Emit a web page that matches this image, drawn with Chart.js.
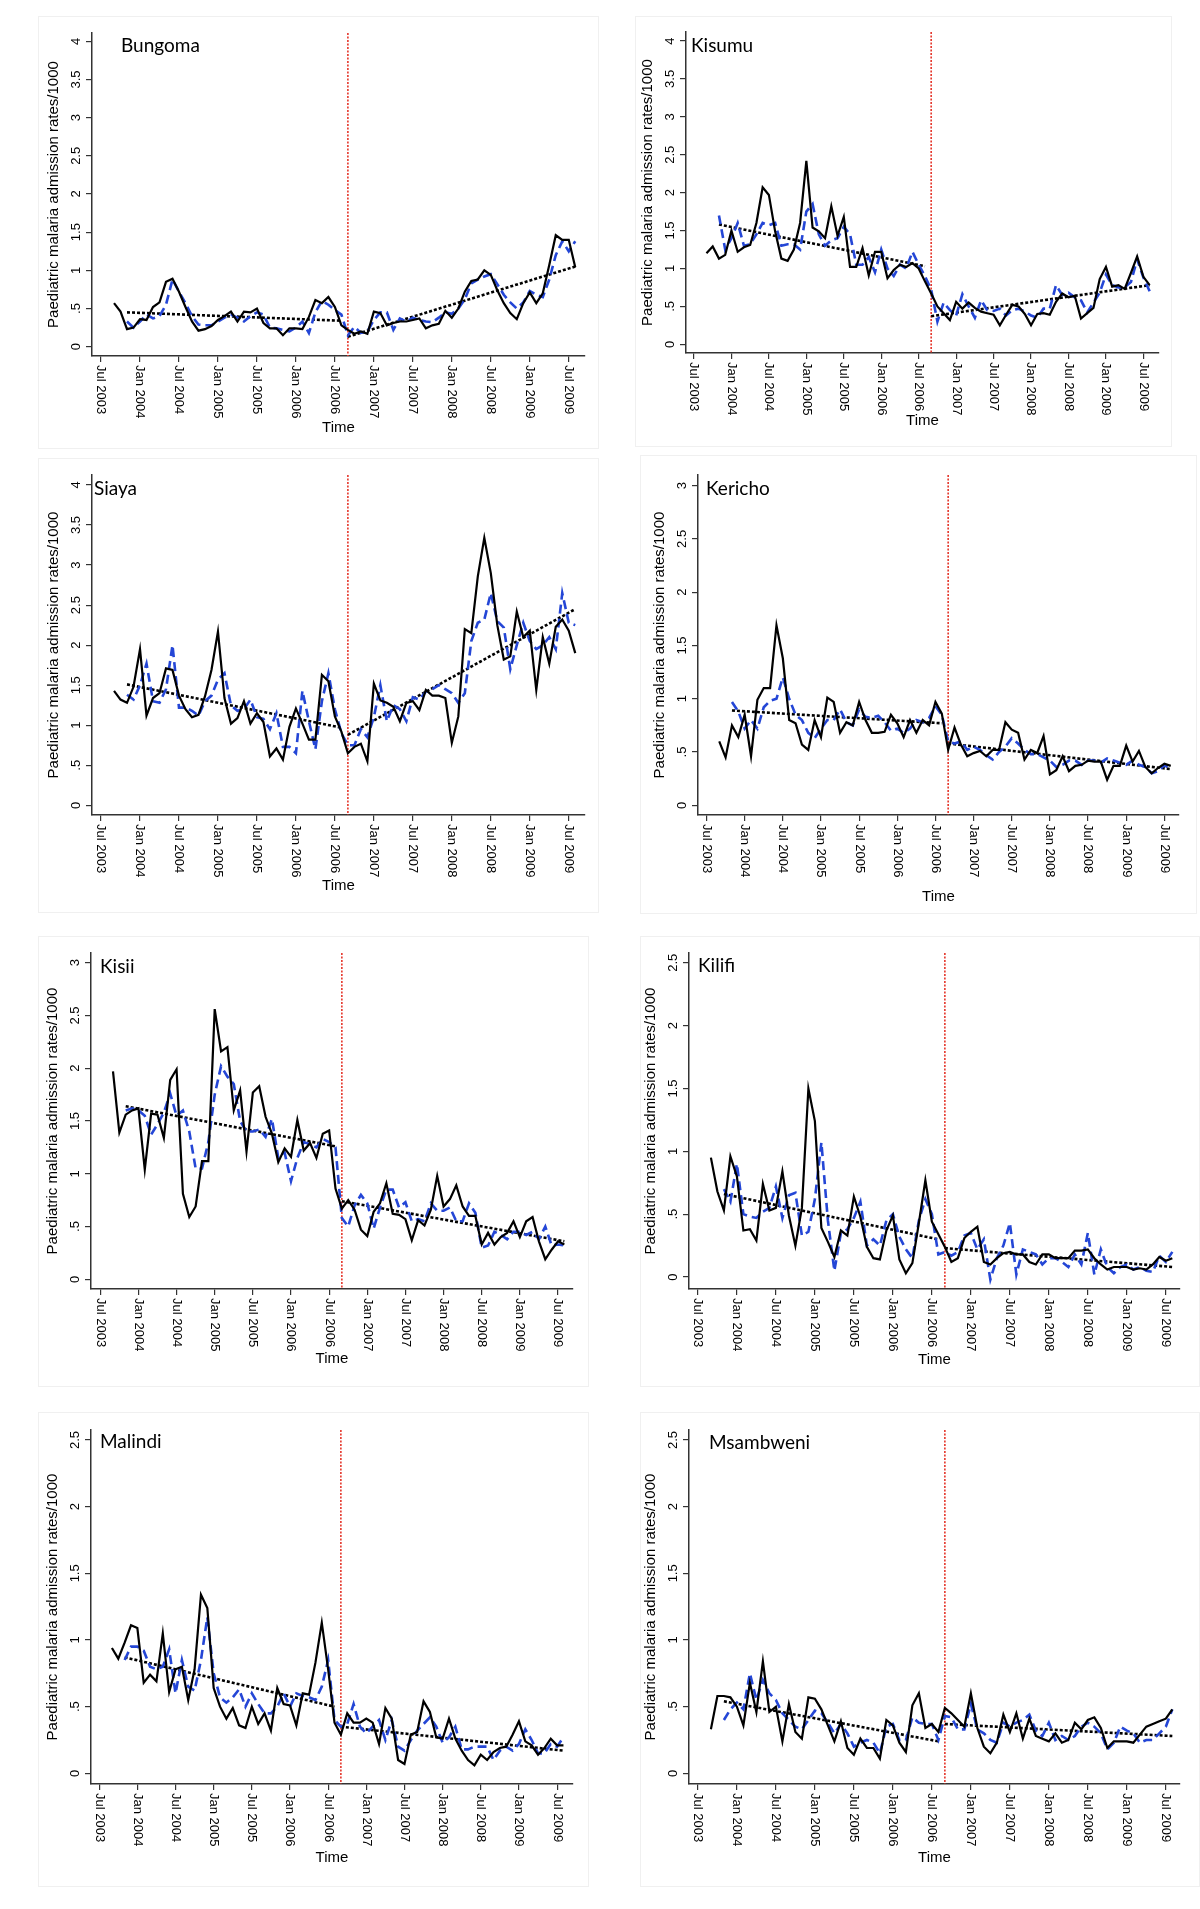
<!DOCTYPE html>
<html>
<head>
<meta charset="utf-8">
<script src="https://cdn.jsdelivr.net/npm/chart.js@4.4.1/dist/chart.umd.min.js"></script>
<style>
    body { margin: 0; background: #fff; width: 1200px; height: 1909px; position: relative; overflow: hidden; }
    canvas { position: absolute; display: block; }
</style>
</head>
<body>
<script>
// months counted from Jul 2003 (= 0)
var xTickMonths = [0, 6, 12, 18, 24, 30, 36, 42, 48, 54, 60, 66, 72];
var xTickLabels = ['Jul 2003', 'Jan 2004', 'Jul 2004', 'Jan 2005', 'Jul 2005', 'Jan 2006', 'Jul 2006',
    'Jan 2007', 'Jul 2007', 'Jan 2008', 'Jul 2008', 'Jan 2009', 'Jul 2009'];
var yTickValues = [0, 0.5, 1, 1.5, 2, 2.5, 3, 3.5, 4];
var yTickLabels = ['0', '.5', '1', '1.5', '2', '2.5', '3', '3.5', '4'];

var obsStartMonth = 2;      // Sep 2003
var fitStartMonth = 4;      // Nov 2003
var interventionMonth = 38; // Sep 2006
var trendPreMonths = [4, 37];
var trendPostMonths = [38, 73];

// observed admission rates (black solid)
var bungomaObs = [0.57, 0.46, 0.23, 0.25, 0.36, 0.35, 0.52, 0.58, 0.85, 0.89,
    0.72, 0.52, 0.33, 0.21, 0.23, 0.27, 0.35, 0.40, 0.46, 0.33,
    0.46, 0.45, 0.50, 0.31, 0.24, 0.24, 0.15, 0.24, 0.24, 0.23,
    0.39, 0.61, 0.57, 0.65, 0.52, 0.28, 0.22, 0.17, 0.20, 0.17,
    0.46, 0.44, 0.28, 0.31, 0.33, 0.33, 0.35, 0.37, 0.24, 0.28,
    0.30, 0.47, 0.38, 0.50, 0.72, 0.86, 0.88, 1.00, 0.94, 0.74,
    0.57, 0.44, 0.36, 0.57, 0.71, 0.57, 0.70, 1.07, 1.46, 1.40,
    1.40, 1.04];
var kisumuObs = [1.20, 1.29, 1.13, 1.18, 1.50, 1.22, 1.28, 1.31, 1.60, 2.07,
    1.97, 1.49, 1.13, 1.10, 1.25, 1.60, 2.42, 1.54, 1.49, 1.40,
    1.82, 1.43, 1.68, 1.02, 1.02, 1.27, 0.91, 1.22, 1.22, 0.87,
    0.98, 1.05, 1.02, 1.07, 1.00, 0.83, 0.67, 0.50, 0.41, 0.32,
    0.56, 0.47, 0.55, 0.48, 0.43, 0.41, 0.39, 0.25, 0.39, 0.52,
    0.50, 0.40, 0.25, 0.40, 0.41, 0.39, 0.56, 0.67, 0.62, 0.64,
    0.34, 0.41, 0.48, 0.86, 1.02, 0.76, 0.78, 0.73, 0.94, 1.16,
    0.89, 0.78];
var siayaObs = [1.43, 1.32, 1.28, 1.48, 1.95, 1.12, 1.34, 1.40, 1.71, 1.69,
    1.37, 1.20, 1.10, 1.13, 1.36, 1.69, 2.17, 1.34, 1.02, 1.09,
    1.30, 1.02, 1.15, 1.04, 0.61, 0.71, 0.57, 0.98, 1.21, 1.02,
    0.82, 0.82, 1.63, 1.55, 1.11, 0.92, 0.65, 0.73, 0.77, 0.55,
    1.52, 1.31, 1.28, 1.23, 1.05, 1.28, 1.30, 1.19, 1.44, 1.37,
    1.37, 1.34, 0.78, 1.11, 2.20, 2.15, 2.86, 3.34, 2.90, 2.25,
    1.82, 1.86, 2.42, 2.10, 2.18, 1.44, 2.10, 1.77, 2.23, 2.32,
    2.18, 1.90];
var kerichoObs = [0.60, 0.45, 0.75, 0.64, 0.85, 0.46, 0.99, 1.10, 1.10, 1.69,
    1.38, 0.80, 0.77, 0.57, 0.52, 0.80, 0.64, 1.01, 0.97, 0.68,
    0.78, 0.75, 0.97, 0.80, 0.68, 0.68, 0.69, 0.85, 0.77, 0.64,
    0.80, 0.68, 0.80, 0.75, 0.97, 0.86, 0.52, 0.73, 0.57, 0.46,
    0.49, 0.51, 0.46, 0.52, 0.52, 0.78, 0.71, 0.68, 0.43, 0.52,
    0.49, 0.65, 0.29, 0.33, 0.46, 0.32, 0.37, 0.38, 0.42, 0.41,
    0.41, 0.24, 0.37, 0.37, 0.56, 0.41, 0.51, 0.36, 0.30, 0.35,
    0.39, 0.37];
var kisiiObs = [1.97, 1.39, 1.56, 1.60, 1.62, 1.04, 1.57, 1.56, 1.34, 1.89,
    1.99, 0.81, 0.59, 0.69, 1.12, 1.12, 2.56, 2.16, 2.20, 1.60,
    1.79, 1.21, 1.77, 1.83, 1.54, 1.38, 1.11, 1.24, 1.16, 1.51,
    1.22, 1.29, 1.15, 1.38, 1.41, 0.86, 0.67, 0.75, 0.66, 0.47,
    0.41, 0.64, 0.72, 0.91, 0.62, 0.61, 0.57, 0.37, 0.56, 0.51,
    0.66, 0.98, 0.69, 0.76, 0.89, 0.69, 0.60, 0.60, 0.33, 0.44,
    0.33, 0.40, 0.44, 0.55, 0.40, 0.55, 0.59, 0.36, 0.19, 0.28,
    0.36, 0.33];
var kilifiObs = [0.95, 0.68, 0.53, 0.96, 0.80, 0.37, 0.38, 0.29, 0.74, 0.53,
    0.55, 0.84, 0.49, 0.25, 0.55, 1.50, 1.24, 0.39, 0.28, 0.16,
    0.37, 0.33, 0.64, 0.48, 0.24, 0.15, 0.14, 0.37, 0.49, 0.14,
    0.03, 0.11, 0.43, 0.77, 0.44, 0.34, 0.24, 0.12, 0.15, 0.31,
    0.36, 0.40, 0.12, 0.10, 0.15, 0.19, 0.20, 0.18, 0.18, 0.12,
    0.10, 0.18, 0.18, 0.15, 0.15, 0.15, 0.21, 0.21, 0.22, 0.15,
    0.10, 0.06, 0.08, 0.08, 0.08, 0.06, 0.07, 0.06, 0.10, 0.16,
    0.13, 0.15];
var malindiObs = [0.94, 0.86, 0.98, 1.11, 1.09, 0.68, 0.74, 0.69, 1.05, 0.61,
    0.78, 0.80, 0.55, 0.78, 1.34, 1.24, 0.64, 0.50, 0.41, 0.49,
    0.36, 0.34, 0.50, 0.37, 0.45, 0.32, 0.64, 0.52, 0.51, 0.36,
    0.60, 0.59, 0.83, 1.13, 0.78, 0.38, 0.29, 0.45, 0.38, 0.38,
    0.41, 0.38, 0.22, 0.49, 0.41, 0.10, 0.07, 0.29, 0.31, 0.54,
    0.46, 0.27, 0.26, 0.41, 0.26, 0.17, 0.10, 0.06, 0.14, 0.10,
    0.16, 0.19, 0.20, 0.29, 0.39, 0.24, 0.21, 0.14, 0.19, 0.26,
    0.21, 0.21];
var msambweniObs = [0.33, 0.58, 0.58, 0.57, 0.50, 0.36, 0.68, 0.46, 0.84, 0.46,
    0.50, 0.24, 0.52, 0.31, 0.26, 0.57, 0.56, 0.48, 0.36, 0.24,
    0.39, 0.19, 0.14, 0.26, 0.19, 0.19, 0.11, 0.40, 0.36, 0.23,
    0.16, 0.51, 0.60, 0.34, 0.37, 0.31, 0.49, 0.45, 0.40, 0.35,
    0.60, 0.34, 0.20, 0.15, 0.23, 0.44, 0.31, 0.45, 0.26, 0.41,
    0.28, 0.26, 0.24, 0.30, 0.23, 0.25, 0.38, 0.33, 0.40, 0.42,
    0.34, 0.19, 0.24, 0.24, 0.24, 0.23, 0.29, 0.35, 0.37, 0.39,
    0.41, 0.48];

// fitted values (blue dashed)
var bungomaFit = [0.33, 0.25, 0.33, 0.42, 0.37, 0.40, 0.55, 0.88, 0.72, 0.57,
    0.40, 0.29, 0.28, 0.28, 0.33, 0.38, 0.42, 0.38, 0.33, 0.40,
    0.45, 0.42, 0.25, 0.24, 0.22, 0.20, 0.25, 0.33, 0.18, 0.45,
    0.60, 0.55, 0.48, 0.42, 0.15, 0.26, 0.18, 0.20, 0.35, 0.45,
    0.45, 0.22, 0.37, 0.33, 0.38, 0.35, 0.33, 0.32, 0.38, 0.45,
    0.43, 0.50, 0.62, 0.83, 0.88, 0.92, 0.95, 0.82, 0.68, 0.58,
    0.50, 0.58, 0.73, 0.68, 0.65, 0.88, 1.20, 1.38, 1.25, 1.38];
var kisumuFit = [1.70, 1.25, 1.40, 1.60, 1.30, 1.32, 1.45, 1.60, 1.57, 1.60,
    1.30, 1.32, 1.32, 1.25, 1.75, 1.85, 1.45, 1.30, 1.37, 1.40,
    1.55, 1.45, 1.05, 1.05, 1.15, 0.95, 1.25, 1.00, 0.90, 1.05,
    1.00, 1.22, 1.05, 0.90, 0.72, 0.30, 0.55, 0.45, 0.38, 0.66,
    0.50, 0.35, 0.58, 0.45, 0.44, 0.47, 0.38, 0.45, 0.47, 0.43,
    0.38, 0.35, 0.47, 0.47, 0.78, 0.65, 0.68, 0.62, 0.58, 0.42,
    0.55, 0.68, 0.92, 0.78, 0.75, 0.75, 0.82, 1.12, 0.88, 0.70];
var siayaFit = [1.38, 1.32, 1.50, 1.77, 1.30, 1.28, 1.45, 2.00, 1.22, 1.22,
    1.18, 1.12, 1.30, 1.37, 1.57, 1.65, 1.25, 1.18, 1.20, 1.32,
    1.10, 1.08, 0.95, 1.15, 0.73, 0.73, 0.65, 1.43, 1.05, 0.70,
    1.30, 1.65, 1.20, 0.90, 0.75, 0.75, 0.95, 0.85, 1.10, 1.50,
    1.05, 1.25, 1.20, 1.05, 1.35, 1.32, 1.42, 1.45, 1.50, 1.45,
    1.40, 1.28, 1.40, 2.05, 2.28, 2.32, 2.65, 2.30, 2.22, 1.70,
    2.00, 2.28, 2.05, 1.95, 2.00, 2.10, 1.95, 2.65, 2.28, 2.25];
var kerichoFit = [0.97, 0.88, 0.72, 0.80, 0.72, 0.92, 0.98, 1.00, 1.20, 1.00,
    0.85, 0.80, 0.68, 0.63, 0.72, 0.80, 0.80, 0.90, 0.78, 0.75,
    0.90, 0.83, 0.82, 0.84, 0.78, 0.70, 0.72, 0.68, 0.72, 0.80,
    0.78, 0.82, 0.93, 0.85, 0.60, 0.58, 0.60, 0.52, 0.55, 0.52,
    0.47, 0.43, 0.50, 0.55, 0.63, 0.58, 0.52, 0.48, 0.48, 0.45,
    0.42, 0.36, 0.38, 0.42, 0.42, 0.38, 0.42, 0.42, 0.40, 0.44,
    0.42, 0.40, 0.38, 0.42, 0.38, 0.36, 0.30, 0.32, 0.38, 0.33];
var kisiiFit = [1.60, 1.62, 1.60, 1.55, 1.37, 1.47, 1.58, 1.76, 1.55, 1.60,
    1.40, 1.05, 1.05, 1.30, 1.75, 2.02, 1.92, 1.85, 1.50, 1.40,
    1.40, 1.42, 1.35, 1.52, 1.15, 1.20, 0.93, 1.15, 1.30, 1.28,
    1.25, 1.33, 1.30, 1.25, 0.58, 0.50, 0.70, 0.80, 0.72, 0.48,
    0.68, 0.85, 0.85, 0.68, 0.73, 0.55, 0.57, 0.55, 0.72, 0.65,
    0.65, 0.68, 0.55, 0.55, 0.72, 0.63, 0.30, 0.32, 0.45, 0.42,
    0.38, 0.45, 0.45, 0.42, 0.45, 0.38, 0.50, 0.32, 0.33, 0.32];
var kilifiFit = [0.70, 0.60, 0.90, 0.50, 0.48, 0.47, 0.52, 0.55, 0.72, 0.47,
    0.65, 0.67, 0.33, 0.36, 0.62, 1.07, 0.45, 0.05, 0.35, 0.38,
    0.47, 0.60, 0.25, 0.30, 0.25, 0.45, 0.50, 0.32, 0.22, 0.15,
    0.45, 0.62, 0.50, 0.18, 0.20, 0.17, 0.20, 0.33, 0.35, 0.22,
    0.30, -0.02, 0.15, 0.25, 0.43, 0.02, 0.22, 0.20, 0.18, 0.10,
    0.15, 0.15, 0.12, 0.08, 0.18, 0.10, 0.35, 0.02, 0.22, 0.08,
    0.03, 0.08, 0.10, 0.06, 0.08, 0.05, 0.04, 0.17, 0.12, 0.20];
var malindiFit = [0.85, 0.95, 0.95, 0.92, 0.80, 0.78, 0.80, 0.93, 0.60, 0.85,
    0.65, 0.62, 0.85, 1.17, 0.75, 0.57, 0.53, 0.57, 0.63, 0.50,
    0.60, 0.52, 0.45, 0.45, 0.50, 0.60, 0.50, 0.60, 0.58, 0.57,
    0.55, 0.65, 0.85, 0.40, 0.35, 0.37, 0.52, 0.35, 0.30, 0.35,
    0.40, 0.25, 0.40, 0.20, 0.17, 0.25, 0.32, 0.37, 0.42, 0.35,
    0.23, 0.27, 0.35, 0.18, 0.18, 0.20, 0.20, 0.20, 0.10, 0.17,
    0.20, 0.17, 0.22, 0.33, 0.25, 0.15, 0.15, 0.22, 0.20, 0.27];
var msambweniFit = [0.40, 0.48, 0.53, 0.48, 0.75, 0.55, 0.70, 0.60, 0.55, 0.45,
    0.40, 0.35, 0.33, 0.40, 0.47, 0.45, 0.38, 0.30, 0.37, 0.30,
    0.20, 0.23, 0.25, 0.23, 0.15, 0.35, 0.37, 0.25, 0.25, 0.42,
    0.38, 0.37, 0.37, 0.25, 0.43, 0.42, 0.33, 0.33, 0.52, 0.33,
    0.30, 0.25, 0.23, 0.38, 0.35, 0.38, 0.40, 0.44, 0.32, 0.28,
    0.38, 0.25, 0.28, 0.25, 0.28, 0.35, 0.38, 0.35, 0.30, 0.18,
    0.23, 0.35, 0.32, 0.30, 0.23, 0.25, 0.25, 0.30, 0.35, 0.48];

// segmented trend lines (black dotted), start and end values
var bungomaTrendPre = [0.45, 0.34], bungomaTrendPost = [0.13, 1.05];
var kisumuTrendPre = [1.58, 1.03], kisumuTrendPost = [0.37, 0.78];
var siayaTrendPre = [1.51, 0.97], siayaTrendPost = [0.88, 2.45];
var kerichoTrendPre = [0.89, 0.77], kerichoTrendPost = [0.58, 0.34];
var kisiiTrendPre = [1.64, 1.26], kisiiTrendPost = [0.74, 0.36];
var kilifiTrendPre = [0.66, 0.30], kilifiTrendPost = [0.23, 0.08];
var malindiTrendPre = [0.87, 0.50], malindiTrendPost = [0.35, 0.17];
var msambweniTrendPre = [0.54, 0.24], msambweniTrendPost = [0.37, 0.28];


// panel layout, page pixels: box = [x1, y1, x2, y2], area = [left, top, right, bottom]
var panels = [
    { name: 'Bungoma', obs: bungomaObs, fit: bungomaFit, pre: bungomaTrendPre, post: bungomaTrendPost,
      yTop: 4, xMin: -1.39, xMax: 74.5, yMin: -0.122, yMax: 4.109,
      box: [38, 16, 599, 449], area: [92, 33, 585, 356], nameAt: [29, 19], timeDy: 72 },
    { name: 'Kisumu', obs: kisumuObs, fit: kisumuFit, pre: kisumuTrendPre, post: kisumuTrendPost,
      yTop: 4, xMin: -1.28, xMax: 74.5, yMin: -0.115, yMax: 4.119,
      box: [635, 16, 1172, 447], area: [686, 32, 1159, 353], nameAt: [5, 20], timeDy: 68 },
    { name: 'Siaya', obs: siayaObs, fit: siayaFit, pre: siayaTrendPre, post: siayaTrendPost,
      yTop: 4, xMin: -1.39, xMax: 74.5, yMin: -0.121, yMax: 4.125,
      box: [38, 458, 599, 913], area: [92, 475, 585, 815], nameAt: [2, 20], timeDy: 71 },
    { name: 'Kericho', obs: kerichoObs, fit: kerichoFit, pre: kerichoTrendPre, post: kerichoTrendPost,
      yTop: 3, xMin: -1.34, xMax: 74.3, yMin: -0.091, yMax: 3.1,
      box: [640, 455, 1197, 914], area: [698, 475, 1179, 815], nameAt: [8, 20], timeDy: 82 },
    { name: 'Kisii', obs: kisiiObs, fit: kisiiFit, pre: kisiiTrendPre, post: kisiiTrendPost,
      yTop: 3, xMin: -1.46, xMax: 74.36, yMin: -0.092, yMax: 3.092,
      box: [38, 936, 589, 1387], area: [91, 953, 573, 1289], nameAt: [9, 20], timeDy: 70 },
    { name: 'Kilifi', obs: kilifiObs, fit: kilifiFit, pre: kilifiTrendPre, post: kilifiTrendPost,
      yTop: 2.5, xMin: -1.37, xMax: 74.18, yMin: -0.095, yMax: 2.577,
      box: [640, 936, 1200, 1387], area: [689, 953, 1180, 1289], nameAt: [9, 19], timeDy: 71 },
    { name: 'Malindi', obs: malindiObs, fit: malindiFit, pre: malindiTrendPre, post: malindiTrendPost,
      yTop: 2.5, xMin: -1.29, xMax: 74.5, yMin: -0.08, yMax: 2.575,
      box: [38, 1412, 589, 1887], area: [91, 1430, 573, 1784], nameAt: [9, 18], timeDy: 74 },
    { name: 'Msambweni', obs: msambweniObs, fit: msambweniFit, pre: msambweniTrendPre, post: msambweniTrendPost,
      yTop: 2.5, xMin: -1.37, xMax: 74.18, yMin: -0.08, yMax: 2.575,
      box: [640, 1412, 1200, 1887], area: [689, 1430, 1180, 1784], nameAt: [20, 19], timeDy: 74 }
];

var TICK_LEN = 6;
var AXIS_FONT = '"Liberation Sans", Arial, Helvetica, sans-serif';
var BLUE = '#2446d6';

function toPoints(startMonth, values) {
    return values.map(function (v, i) { return { x: startMonth + i, y: v }; });
}

function pairPoints(months, values) {
    return [{ x: months[0], y: values[0] }, { x: months[1], y: values[1] }];
}

// draws the Stata-like decorations: rotated tick labels, axis titles, district name, intervention line
var panelDecor = {
    id: 'panelDecor',
    beforeDatasetsDraw: function (chart) {
        var ctx = chart.ctx, a = chart.chartArea;
        var x = chart.scales.x.getPixelForValue(interventionMonth);
        ctx.save();
        ctx.strokeStyle = '#e5362b';
        ctx.lineWidth = 1.6;
        ctx.setLineDash([2, 1.5]);
        ctx.beginPath();
        ctx.moveTo(x, a.top);
        ctx.lineTo(x, a.bottom);
        ctx.stroke();
        ctx.restore();
    },
    afterDraw: function (chart, args, opts) {
        var ctx = chart.ctx, a = chart.chartArea;
        var xs = chart.scales.x, ys = chart.scales.y;
        ctx.save();

        // faint panel frame
        ctx.strokeStyle = '#f0f0f0';
        ctx.lineWidth = 1;
        ctx.strokeRect(0.5, 0.5, chart.width - 1, chart.height - 1);

        ctx.fillStyle = '#000';
        ctx.font = '13px ' + AXIS_FONT;

        // y tick labels, rotated
        yTickValues.forEach(function (v, i) {
            if (v > opts.yTop) return;
            ctx.save();
            ctx.translate(a.left - 16, ys.getPixelForValue(v));
            ctx.rotate(-Math.PI / 2);
            ctx.textAlign = 'center';
            ctx.textBaseline = 'middle';
            ctx.fillText(yTickLabels[i], 0, 0);
            ctx.restore();
        });

        // x tick labels, reading downwards
        xTickMonths.forEach(function (m, i) {
            ctx.save();
            ctx.translate(xs.getPixelForValue(m), a.bottom + 9);
            ctx.rotate(Math.PI / 2);
            ctx.textAlign = 'left';
            ctx.textBaseline = 'middle';
            ctx.fillText(xTickLabels[i], 0, 0);
            ctx.restore();
        });

        // axis titles
        ctx.font = '15px ' + AXIS_FONT;
        ctx.save();
        ctx.translate(a.left - 38, (a.top + a.bottom) / 2);
        ctx.rotate(-Math.PI / 2);
        ctx.textAlign = 'center';
        ctx.textBaseline = 'middle';
        ctx.fillText('Paediatric malaria admission rates/1000', 0, 0);
        ctx.restore();

        ctx.textAlign = 'center';
        ctx.textBaseline = 'middle';
        ctx.fillText('Time', (a.left + a.right) / 2, a.bottom + opts.timeDy);

        // district name inside the plot
        ctx.font = '19px Lato, "Open Sans", sans-serif';
        ctx.textAlign = 'left';
        ctx.textBaseline = 'alphabetic';
        ctx.fillText(opts.name, a.left + opts.nameAt[0], a.top + opts.nameAt[1]);

        ctx.restore();
    }
};

function makePanel(p) {
    var canvas = document.createElement('canvas');
    var w = p.box[2] - p.box[0], h = p.box[3] - p.box[1];
    canvas.width = w;
    canvas.height = h;
    canvas.style.left = p.box[0] + 'px';
    canvas.style.top = p.box[1] + 'px';
    document.body.appendChild(canvas);

    var axisStyle = {
        grid: { drawOnChartArea: false, drawTicks: true, tickLength: TICK_LEN, color: '#333', lineWidth: 1.2 },
        border: { display: true, color: '#333', width: 1.5 },
        ticks: { display: false }
    };

    var config = {
        type: 'line',
        data: {
            datasets: [
                { label: 'Observed', data: toPoints(obsStartMonth, p.obs),
                  borderColor: '#000', borderWidth: 2.2, pointRadius: 0, tension: 0 },
                { label: 'Fitted', data: toPoints(fitStartMonth, p.fit),
                  borderColor: BLUE, borderWidth: 2.6, borderDash: [9, 5], pointRadius: 0, tension: 0 },
                { label: 'Trend before', data: pairPoints(trendPreMonths, p.pre),
                  borderColor: '#000', borderWidth: 2.6, borderDash: [3, 2], pointRadius: 0 },
                { label: 'Trend after', data: pairPoints(trendPostMonths, p.post),
                  borderColor: '#000', borderWidth: 2.6, borderDash: [3, 2], pointRadius: 0 }
            ]
        },
        options: {
            responsive: false,
            animation: false,
            events: [],
            layout: {
                padding: {
                    left: p.area[0] - p.box[0] - TICK_LEN,
                    top: p.area[1] - p.box[1],
                    right: p.box[2] - p.area[2],
                    bottom: p.box[3] - p.area[3] - TICK_LEN
                }
            },
            plugins: {
                legend: { display: false },
                tooltip: { enabled: false },
                panelDecor: { name: p.name, yTop: p.yTop, nameAt: p.nameAt, timeDy: p.timeDy }
            },
            scales: {
                x: Object.assign({
                    type: 'linear', min: p.xMin, max: p.xMax,
                    afterBuildTicks: function (scale) {
                        scale.ticks = xTickMonths.map(function (m) { return { value: m }; });
                    }
                }, axisStyle),
                y: Object.assign({
                    type: 'linear', min: p.yMin, max: p.yMax,
                    afterBuildTicks: function (scale) {
                        scale.ticks = yTickValues.filter(function (v) { return v <= p.yTop; })
                            .map(function (v) { return { value: v }; });
                    }
                }, axisStyle)
            }
        },
        plugins: [panelDecor]
    };

    return new Chart(canvas, config);
}

panels.forEach(makePanel);
</script>
</body>
</html>
